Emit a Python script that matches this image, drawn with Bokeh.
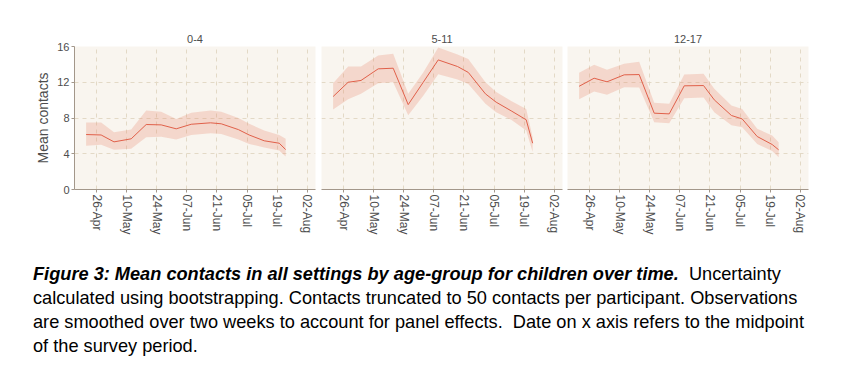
import pandas as pd
from bokeh.plotting import figure
from bokeh.layouts import column, row
from bokeh.models import FixedTicker, DatetimeTickFormatter, Range1d, Div, ColumnDataSource
from bokeh.embed import file_html
from bokeh.resources import INLINE

# ---- data ----
dates = ["2020-04-21", "2020-04-28", "2020-05-04", "2020-05-12", "2020-05-19",
         "2020-05-26", "2020-06-02", "2020-06-09", "2020-06-18", "2020-06-23",
         "2020-07-01", "2020-07-06", "2020-07-13", "2020-07-20", "2020-07-23"]

groups = ["0-4", "5-11", "12-17"]

mean_0_4 = [6.15, 6.1, 5.33, 5.67, 7.27, 7.23, 6.79, 7.3, 7.46, 7.35, 6.7, 6.1, 5.45, 5.18, 4.47]
lo_0_4 = [4.9, 5.0, 4.45, 4.55, 5.85, 5.9, 5.6, 6.1, 6.3, 6.2, 5.6, 5.1, 4.7, 4.36, 3.7]
hi_0_4 = [7.5, 7.5, 6.4, 6.7, 8.84, 8.7, 7.9, 8.6, 8.84, 8.7, 8.0, 7.35, 6.6, 6.1, 5.67]

mean_5_11 = [10.4, 12.0, 12.2, 13.5, 13.57, 9.5, 12.0, 14.5, 13.76, 13.1, 10.7, 9.77, 8.8, 7.8, 5.18]
lo_5_11 = [8.95, 10.1, 10.7, 11.9, 12.0, 8.3, 10.5, 12.9, 12.3, 11.8, 9.6, 8.65, 7.8, 6.6, 4.2]
hi_5_11 = [11.9, 13.76, 13.76, 15.0, 15.2, 10.7, 13.1, 15.9, 15.1, 14.6, 12.0, 10.9, 9.9, 9.0, 5.85]

mean_12_17 = [11.55, 12.45, 12.05, 12.83, 12.86, 8.54, 8.46, 11.6, 11.63, 10.03, 8.28, 7.9, 5.93, 5.03, 4.44]
lo_12_17 = [10.1, 10.96, 10.6, 11.45, 11.4, 7.53, 7.42, 10.2, 10.3, 8.65, 7.2, 6.97, 5.1, 4.3, 3.6]
hi_12_17 = [13.05, 13.95, 13.4, 14.06, 14.3, 9.7, 9.6, 12.86, 12.94, 11.26, 9.4, 9.0, 6.79, 6.04, 5.3]

tick_dates = ["2020-04-26", "2020-05-10", "2020-05-24", "2020-06-07",
              "2020-06-21", "2020-07-05", "2020-07-19", "2020-08-02"]
y_ticks = [0, 4, 8, 12, 16]

# ---- styling ----
BG = "#f9f5ef"
GRID = "#e3d9c6"
AXIS = "#a3978a"
TXT = "#4d4d4d"
LINE = "#e0604a"
BAND = "#e8836a"
FONT = "Liberation Sans"

x_vals = pd.to_datetime(dates)
tick_ms = [pd.Timestamp(d).value / 1e6 for d in tick_dates]
x_start = pd.Timestamp("2020-04-15 14:00").value / 1e6
x_end = pd.Timestamp("2020-08-05 22:00").value / 1e6

series = [(mean_0_4, lo_0_4, hi_0_4), (mean_5_11, lo_5_11, hi_5_11), (mean_12_17, lo_12_17, hi_12_17)]
borders = [(74, 3), (3, 2), (3, 5)]

panels = []
for i, (g, (m, lo, hi)) in enumerate(zip(groups, series)):
    bl, br = borders[i]
    p = figure(frame_width=241, frame_height=143, x_axis_type="datetime",
               x_range=Range1d(x_start, x_end), y_range=Range1d(0, 16),
               output_backend="svg", toolbar_location=None, title=g,
               min_border_left=bl, min_border_right=br, min_border_top=46,
               min_border_bottom=55)
    p.background_fill_color = BG
    p.border_fill_color = "white"
    p.outline_line_color = None
    p.title.align = "center"
    p.title.text_font = FONT
    p.title.text_font_size = "11px"
    p.title.text_font_style = "normal"
    p.title.text_color = TXT
    p.title.standoff = 7

    src = ColumnDataSource(dict(x=x_vals, m=m, lo=lo, hi=hi))
    p.varea(x="x", y1="lo", y2="hi", source=src, fill_color=BAND, fill_alpha=0.26)
    p.line(x="x", y="m", source=src, line_color=LINE, line_width=1)

    xt = FixedTicker(ticks=tick_ms)
    p.xaxis.ticker = xt
    p.xgrid.ticker = xt
    fmt = "%d-%b"
    p.xaxis.formatter = DatetimeTickFormatter(days=fmt, months=fmt, hours=fmt, years=fmt,
                                              milliseconds=fmt, seconds=fmt, minsec=fmt,
                                              minutes=fmt, hourmin=fmt)
    p.xaxis.major_label_orientation = "vertical"
    yt = FixedTicker(ticks=y_ticks)
    p.yaxis.ticker = yt
    p.ygrid.ticker = yt

    for ax in (p.xaxis, p.yaxis):
        ax.axis_line_color = AXIS
        ax.major_tick_line_color = AXIS
        ax.major_tick_out = 3
        ax.major_tick_in = 0
        ax.minor_tick_line_color = None
        ax.major_label_text_font = FONT
        ax.major_label_text_font_size = "11px"
        ax.major_label_text_color = TXT
        ax.major_label_standoff = 2
    p.xaxis.major_label_text_font_size = "12px"

    for gr in (p.xgrid, p.ygrid):
        gr.grid_line_color = GRID
        gr.grid_line_dash = "4 4"
        gr.grid_line_width = 1

    if i == 0:
        p.yaxis.axis_label = "Mean contacts"
        p.yaxis.axis_label_text_font = FONT
        p.yaxis.axis_label_text_font_size = "14px"
        p.yaxis.axis_label_text_font_style = "normal"
        p.yaxis.axis_label_text_color = TXT
        p.yaxis.axis_label_standoff = 3
    else:
        p.yaxis.visible = False
    panels.append(p)

caption = Div(
    text=("<b><i>Figure 3: Mean contacts in all settings by age-group for children over time.</i></b>"
          "&nbsp; Uncertainty<br>"
          "calculated using bootstrapping. Contacts truncated to 50 contacts per participant. Observations<br>"
          "are smoothed over two weeks to account for panel effects.&nbsp; Date on x axis refers to the midpoint<br>"
          "of the survey period."),
    width=800, margin=(18, 0, 0, 33),
    styles={"font-family": "'Liberation Sans', Arial, sans-serif",
            "font-size": "18.2px", "line-height": "24px", "color": "#000",
            "white-space": "nowrap"})

layout = column(row(*panels), caption)
open("out.html", "w").write(file_html(layout, INLINE))
